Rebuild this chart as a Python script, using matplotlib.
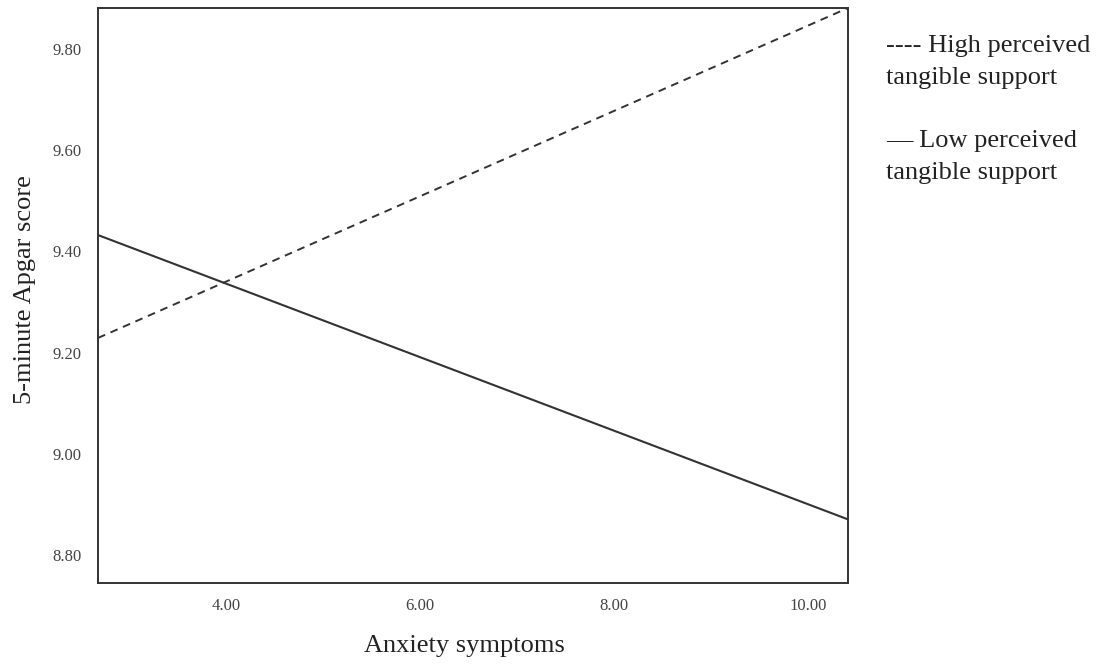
import numpy as np
import matplotlib.pyplot as plt

# Dados
anxiety = [2.675, 10.413]
high_support = [9.229, 9.880]
low_support = [9.432, 8.871]

xticks = [4, 6, 8, 10]
yticks = [8.8, 9.0, 9.2, 9.4, 9.6, 9.8]

plt.rcParams['font.family'] = 'Liberation Serif'

fig = plt.figure(figsize=(11.02, 6.65), dpi=100)
ax = fig.add_axes([98/1102, 1-583/665, 750/1102, 575/665])

ax.plot(anxiety, high_support, color='#333333', lw=1.4, linestyle=(0, (4, 3)), clip_on=False)
ax.plot(anxiety, low_support, color='#333333', lw=1.5)

# Limites
ax.set_xlim(2.675, 10.413)
ax.set_ylim(8.7455, 9.88)

ax.set_xticks(xticks)
ax.set_xticklabels([f"{t:.2f}" for t in xticks])
ax.set_yticks(yticks)
ax.set_yticklabels([f"{t:.2f}" for t in yticks])
ax.tick_params(length=0, labelsize=12, labelcolor='#444444')
ax.tick_params(axis='x', pad=11)
ax.tick_params(axis='y', pad=12)

for s in ax.spines.values():
    s.set_linewidth(1.4)
    s.set_color('#333333')

ax.set_xlabel("Anxiety symptoms", fontsize=19, color='#222222')
ax.set_ylabel("5-minute Apgar score", fontsize=19, color='#222222')
ax.xaxis.set_label_coords(0.488, -0.0904)
ax.yaxis.set_label_coords(-0.083, 0.511)

# Legenda como texto
fig.text(886/1102, 1-62/665, "---- High perceived\ntangible support", fontsize=19,
         color='#222222', ha='left', va='center', linespacing=1.6)
fig.text(886/1102, 1-157/665, "\u2014 Low perceived\ntangible support", fontsize=19,
         color='#222222', ha='left', va='center', linespacing=1.6)

plt.savefig("out.png", dpi=100)
